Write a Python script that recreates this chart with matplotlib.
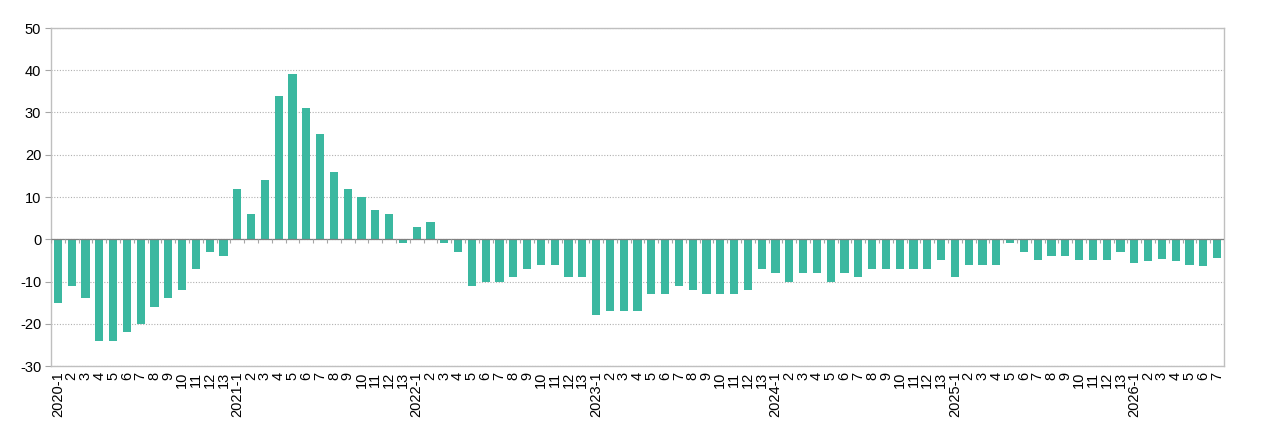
import matplotlib
matplotlib.use("Agg")
import matplotlib.pyplot as plt
import numpy as np

plt.rcParams['font.family'] = ['Liberation Sans', 'DejaVu Sans']
plt.rcParams['axes.unicode_minus'] = False

years = [2020, 2021, 2022, 2023, 2024, 2025, 2026]
periods_per_year = [13, 13, 13, 13, 13, 13, 7]

v2020 = [-15, -11, -14, -24, -24, -22, -20, -16, -14, -12, -7, -3, -4]
v2021 = [12, 6, 14, 34, 39, 31, 25, 16, 12, 10, 7, 6, -1]
v2022 = [3, 4, -1, -3, -11, -10, -10, -9, -7, -6, -6, -9, -9]
v2023 = [-18, -17, -17, -17, -13, -13, -11, -12, -13, -13, -13, -12, -7]
v2024 = [-8, -10, -8, -8, -10, -8, -9, -7, -7, -7, -7, -7, -5]
v2025 = [-9, -6, -6, -6, -1, -3, -5, -4, -4, -5, -5, -5, -3]
v2026 = [-5.6, -5.1, -4.7, -5.1, -6.1, -6.3, -4.4]

values = v2020 + v2021 + v2022 + v2023 + v2024 + v2025 + v2026
labels = []
for y, n in zip(years, periods_per_year):
    for p in range(1, n + 1):
        labels.append(f"{y}-{p}" if p == 1 else str(p))

bar_color = '#3bb8a0'
grey = '#a6a6a6'

fig = plt.figure(figsize=(12.62, 4.4), dpi=100)
ax = fig.add_axes([51 / 1262, 1 - 366 / 440, (1224 - 51) / 1262, (366 - 28) / 440])

x = np.arange(len(values))
ax.bar(x, values, width=0.58, color=bar_color, zorder=3)

ax.set_xlim(-0.5, len(values) - 0.5)
ax.set_ylim(-30, 50)
ax.set_yticks(np.arange(-30, 51, 10))
ax.yaxis.grid(True, linestyle=(0, (1, 1.5)), color='#b0b0b0', linewidth=0.8)
ax.set_axisbelow(True)

# zero line with category boundary ticks
ax.axhline(0, color='#808080', linewidth=0.9, zorder=4)
ax.vlines(np.arange(len(values) + 1) - 0.5, -0.9, 0, color=grey, linewidth=0.8, zorder=4)

ax.set_xticks(x)
ax.set_xticklabels(labels, rotation=90, fontsize=10.5)
ax.tick_params(axis='x', length=0, pad=4)
ax.tick_params(axis='y', length=4, color=grey, labelsize=10.5, pad=3)

for side in ['left', 'right', 'top', 'bottom']:
    ax.spines[side].set_color('#bfbfbf')
    ax.spines[side].set_linewidth(1.0)

fig.savefig("out.png", dpi=100)
